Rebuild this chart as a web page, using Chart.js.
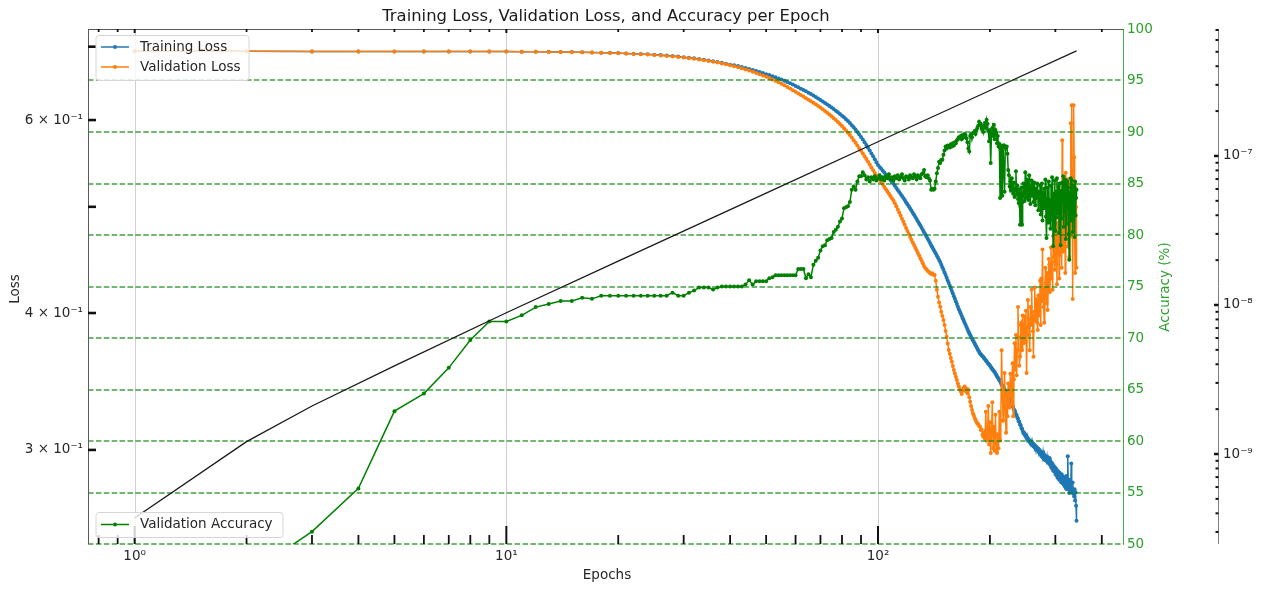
<!DOCTYPE html>
<html>
<head>
<meta charset="utf-8">
<script src="https://cdn.jsdelivr.net/npm/chart.js@4.4.0/dist/chart.umd.min.js"></script>
<style>
  html, body { margin: 0; padding: 0; background: #fff; }
  #wrap { width: 1263px; height: 591px; }
</style>
</head>
<body>
<div id="wrap"><canvas id="chart" width="1263" height="591"></canvas></div>
<script>
// values, one per epoch
const trainLoss = [
  0.6932,0.6932,0.6931,0.6931,0.6931,0.6930,0.6930,0.6929,0.6929,0.6928,
  0.6927,0.6926,0.6925,0.6923,0.6921,0.6919,0.6916,0.6913,0.6910,0.6906,
  0.6902,0.6898,0.6893,0.6888,0.6883,0.6877,0.6870,0.6863,0.6856,0.6848,
  0.6840,0.6831,0.6822,0.6812,0.6801,0.6790,0.6778,0.6766,0.6753,0.6740,
  0.6732,0.6720,0.6707,0.6694,0.6680,0.6666,0.6652,0.6637,0.6622,0.6607,
  0.6594,0.6580,0.6565,0.6549,0.6533,0.6516,0.6499,0.6482,0.6464,0.6446,
  0.6427,0.6409,0.6391,0.6373,0.6355,0.6336,0.6317,0.6298,0.6279,0.6259,
  0.6239,0.6220,0.6200,0.6180,0.6160,0.6140,0.6119,0.6098,0.6077,0.6056,
  0.6034,0.6011,0.5987,0.5962,0.5936,0.5909,0.5881,0.5852,0.5822,0.5791,
  0.5759,0.5727,0.5694,0.5661,0.5628,0.5594,0.5560,0.5526,0.5492,0.5458,
  0.5436,0.5415,0.5394,0.5373,0.5352,0.5331,0.5310,0.5289,0.5268,0.5247,
  0.5225,0.5203,0.5181,0.5159,0.5137,0.5115,0.5093,0.5071,0.5049,0.5027,
  0.5005,0.4983,0.4961,0.4939,0.4917,0.4895,0.4873,0.4851,0.4829,0.4807,
  0.4785,0.4763,0.4741,0.4719,0.4697,0.4676,0.4655,0.4634,0.4613,0.4592,
  0.4572,0.4552,0.4532,0.4512,0.4492,0.4472,0.4452,0.4428,0.4404,0.4380,
  0.4356,0.4332,0.4308,0.4284,0.4260,0.4236,0.4213,0.4190,0.4167,0.4144,
  0.4121,0.4098,0.4076,0.4054,0.4032,0.4013,0.3994,0.3975,0.3956,0.3938,
  0.3920,0.3902,0.3884,0.3867,0.3850,0.3834,0.3820,0.3806,0.3792,0.3778,
  0.3765,0.3752,0.3739,0.3726,0.3713,0.3700,0.3688,0.3676,0.3668,0.3661,
  0.3652,0.3646,0.3637,0.3630,0.3621,0.3614,0.3604,0.3596,0.3590,0.3582,
  0.3572,0.3566,0.3555,0.3548,0.3540,0.3533,0.3522,0.3511,0.3503,0.3494,
  0.3482,0.3476,0.3466,0.3455,0.3442,0.3432,0.3430,0.3415,0.3409,0.3396,
  0.3390,0.3372,0.3369,0.3352,0.3348,0.3331,0.3325,0.3310,0.3301,0.3290,
  0.3284,0.3266,0.3259,0.3249,0.3231,0.3228,0.3212,0.3204,0.3187,0.3183,
  0.3166,0.3160,0.3142,0.3137,0.3121,0.3108,0.3112,0.3095,0.3101,0.3082,
  0.3089,0.3070,0.3076,0.3058,0.3064,0.3049,0.3055,0.3038,0.3047,0.3030,
  0.3041,0.3022,0.3034,0.3015,0.3026,0.3009,0.3019,0.3003,0.2998,0.3008,
  0.2985,0.2999,0.2974,0.2990,0.2962,0.2981,0.2955,0.2985,0.2946,0.2970,
  0.2938,0.2962,0.2950,0.2931,0.2958,0.2925,0.2944,0.2917,0.2949,0.2910,
  0.2930,0.2896,0.2921,0.2885,0.2912,0.2871,0.2900,0.2868,0.2893,0.2852,
  0.2886,0.2845,0.2874,0.2830,0.2869,0.2838,0.2818,0.2860,0.2826,0.2842,
  0.2803,0.2851,0.2812,0.2797,0.2835,0.2790,0.2826,0.2779,0.2810,0.2770,
  0.2840,0.2762,0.2802,0.2960,0.2795,0.2771,0.2740,0.2818,0.2752,0.2786,
  0.2915,0.2774,0.2745,0.2802,0.2736,0.2758,0.2720,0.2762,0.2698,0.2745,
  0.2668,0.2585
];

const valLoss = [
  0.6932,0.6932,0.6931,0.6931,0.6931,0.6930,0.6930,0.6929,0.6929,0.6928,
  0.6927,0.6926,0.6924,0.6922,0.6920,0.6918,0.6915,0.6912,0.6908,0.6904,
  0.6900,0.6895,0.6890,0.6885,0.6879,0.6873,0.6866,0.6858,0.6850,0.6842,
  0.6833,0.6824,0.6814,0.6804,0.6793,0.6782,0.6770,0.6758,0.6745,0.6732,
  0.6718,0.6704,0.6689,0.6673,0.6657,0.6641,0.6624,0.6607,0.6589,0.6571,
  0.6553,0.6534,0.6515,0.6495,0.6475,0.6454,0.6433,0.6411,0.6389,0.6366,
  0.6345,0.6324,0.6303,0.6282,0.6262,0.6242,0.6222,0.6201,0.6180,0.6159,
  0.6138,0.6116,0.6094,0.6071,0.6048,0.6024,0.6000,0.5975,0.5950,0.5924,
  0.5897,0.5870,0.5842,0.5813,0.5783,0.5752,0.5720,0.5688,0.5656,0.5624,
  0.5592,0.5560,0.5528,0.5496,0.5464,0.5432,0.5400,0.5368,0.5340,0.5314,
  0.5289,0.5264,0.5239,0.5214,0.5189,0.5164,0.5140,0.5116,0.5092,0.5068,
  0.5037,0.5005,0.4973,0.4941,0.4909,0.4877,0.4845,0.4814,0.4783,0.4752,
  0.4722,0.4692,0.4666,0.4640,0.4614,0.4588,0.4563,0.4538,0.4513,0.4488,
  0.4464,0.4440,0.4416,0.4398,0.4385,0.4370,0.4363,0.4352,0.4342,0.4349,
  0.4336,0.4333,0.4280,0.4200,0.4140,0.4090,0.4054,0.4010,0.3975,0.3942,
  0.3900,0.3852,0.3806,0.3752,0.3701,0.3672,0.3640,0.3610,0.3578,0.3549,
  0.3522,0.3498,0.3475,0.3450,0.3427,0.3410,0.3392,0.3375,0.3398,0.3418,
  0.3428,0.3395,0.3412,0.3380,0.3403,0.3352,0.3320,0.3291,0.3263,0.3240,
  0.3225,0.3208,0.3195,0.3183,0.3172,0.3168,0.3155,0.3151,0.3128,0.3132,
  0.3098,0.3085,0.3110,0.3072,0.3250,0.3058,0.3063,0.3290,0.3035,0.3180,
  0.2981,0.3120,0.3316,0.3010,0.3150,0.2995,0.3230,0.3040,0.2981,0.3100,
  0.3010,0.3250,0.3060,0.3190,0.3700,0.3400,0.3190,0.3350,0.3526,0.3280,
  0.3110,0.3380,0.3220,0.3450,0.3310,0.3280,0.3520,0.3450,0.3300,0.3600,
  0.3220,0.3480,0.3754,0.3550,0.3820,0.3510,0.3700,0.4050,0.3800,0.3580,
  0.3648,0.3900,0.3920,0.3700,0.3980,0.3754,0.3850,0.3970,0.3760,0.4020,
  0.3526,0.3880,0.4110,0.3950,0.3820,0.3700,0.4050,0.3900,0.4200,0.3980,
  0.3850,0.3648,0.4010,0.4220,0.3940,0.4120,0.4090,0.3920,0.3860,0.4150,
  0.3980,0.4050,0.4280,0.3900,0.4300,0.4100,0.4570,0.4200,0.4050,0.3920,
  0.4150,0.4400,0.4260,0.4080,0.4350,0.4025,0.4200,0.4480,0.4430,0.4180,
  0.4350,0.4590,0.4300,0.4450,0.4200,0.4700,0.4500,0.4890,0.4380,0.4600,
  0.4430,0.4750,0.4250,0.4830,0.4550,0.4980,0.4300,0.4700,0.4520,0.5000,
  0.4650,0.4400,0.5750,0.4800,0.4550,0.5100,0.4590,0.4900,0.4350,0.5370,
  0.4700,0.5050,0.5180,0.4600,0.4950,0.5300,0.4500,0.4880,0.5250,0.5960,
  0.4700,0.6190,0.5100,0.4120,0.5400,0.6190,0.5550,0.4800,0.4350,0.5200,
  0.5000,0.4400
];

const valAcc = [
  40.0,46.9,51.2,55.4,62.9,64.6,67.1,69.8,71.6,71.6,
  72.2,73.0,73.3,73.6,73.6,73.9,73.8,74.1,74.1,74.1,
  74.1,74.1,74.1,74.1,74.1,74.1,74.1,74.4,74.1,74.1,
  74.4,74.6,74.9,74.9,74.9,74.7,74.9,75.0,75.0,75.0,
  75.0,75.0,75.0,75.2,75.6,75.2,75.5,75.5,75.5,75.5,
  75.8,75.9,76.1,76.1,76.1,76.1,76.1,76.1,76.1,76.1,
  76.7,76.7,76.7,75.8,76.2,75.9,77.1,77.5,77.8,78.5,
  78.9,79.0,79.5,79.6,79.7,80.3,80.5,80.8,81.3,81.6,
  82.6,82.7,82.8,83.2,84.4,84.7,84.4,85.2,85.7,85.7,
  86.1,85.8,85.4,85.6,85.2,85.6,85.4,85.7,85.3,85.5,
  85.8,85.4,85.6,85.3,85.7,85.5,85.9,85.4,85.6,85.3,
  85.7,85.5,85.8,85.4,85.6,85.9,85.5,85.3,85.7,85.6,
  85.4,85.8,85.6,85.5,85.9,85.7,85.4,85.8,85.6,85.5,
  85.9,86.0,86.3,85.7,85.6,85.8,85.5,85.3,84.4,84.5,
  84.4,84.5,85.2,86.0,86.5,87.1,87.0,87.3,87.3,87.8,
  88.2,88.6,88.4,88.7,88.6,88.5,88.8,88.6,88.9,88.7,
  89.0,88.9,89.2,89.3,89.5,89.4,89.6,89.3,89.7,89.5,
  89.8,89.7,89.4,89.0,88.4,88.1,89.6,89.8,89.5,89.9,
  89.9,90.1,89.8,90.2,90.4,90.6,91.0,90.7,90.8,90.3,
  90.5,90.0,90.6,90.9,90.4,91.2,90.8,90.1,89.1,90.2,
  87.0,89.8,90.4,89.6,90.7,89.3,90.2,89.9,88.9,89.6,
  88.6,88.8,83.6,88.7,88.5,83.8,88.7,88.7,84.2,88.6,
  88.4,88.6,87.9,86.3,85.8,84.7,85.2,84.3,85.5,84.6,
  84.0,85.1,83.7,84.5,86.2,83.9,84.8,83.5,83.1,84.4,
  81.0,83.8,84.6,81.0,83.2,85.0,84.1,83.3,86.1,84.2,
  83.6,85.4,84.0,83.4,85.8,84.3,83.0,84.7,85.3,83.8,
  84.9,83.2,85.1,84.0,82.9,84.5,83.6,85.0,83.9,82.4,
  84.2,83.1,84.8,82.0,83.7,85.0,81.4,84.1,82.6,84.5,
  82.7,85.4,81.8,79.7,83.5,84.6,81.2,85.2,82.3,83.4,
  80.6,84.8,82.0,85.6,81.5,78.9,84.0,82.8,85.3,80.4,
  84.2,81.7,85.5,83.0,82.1,84.7,80.2,85.0,82.5,79.0,
  84.3,81.6,85.1,83.2,85.7,80.8,84.0,82.2,85.4,79.6,
  83.8,81.1,85.2,82.7,84.6,80.1,77.6,84.1,82.0,85.5,
  81.4,85.3,83.0,80.3,84.8,82.5,84.4,79.8,85.2,81.9,
  83.6,84.4
];

const epochs = trainLoss.map((_, i) => i + 1);

// learning rate (black line, third axis)
const lrEpochs = [1, 2, 3, 5, 10, 20, 50, 100, 200, 342];
const lrValues = [3.72e-10, 1.21e-9, 2.10e-9, 3.90e-9, 8.87e-9, 1.97e-8, 5.63e-8, 1.245e-7, 2.75e-7, 5.07e-7];

// tick labels
const xTicks = [1, 10, 100];
const xTickLabels = ['10\u2070', '10\u00B9', '10\u00B2'];
const xMinor = [0.8, 0.9, 2, 3, 4, 5, 6, 7, 8, 9, 20, 30, 40, 50, 60, 70, 80, 90, 200, 300, 400];
const lossTicks = [0.3, 0.4, 0.5, 0.6, 0.7];
const lossTickLabels = ['3 \u00D7 10\u207B\u00B9', '4 \u00D7 10\u207B\u00B9', '', '6 \u00D7 10\u207B\u00B9', ''];
const accTicks = [50, 55, 60, 65, 70, 75, 80, 85, 90, 95, 100];
const lrTicks = [1e-9, 1e-8, 1e-7];
const lrTickLabels = ['10\u207B\u2079', '10\u207B\u2078', '10\u207B\u2077'];

const FONT = "'DejaVu Sans', sans-serif";
Chart.defaults.font.family = FONT;
Chart.defaults.font.size = 13.5;
Chart.defaults.color = '#262626';

function line(ctx, x1, y1, x2, y2) {
  ctx.beginPath();
  ctx.moveTo(x1, y1);
  ctx.lineTo(x2, y2);
  ctx.stroke();
}

function roundBox(ctx, x, y, w, h, r) {
  ctx.beginPath();
  ctx.moveTo(x + r, y);
  ctx.lineTo(x + w - r, y);
  ctx.arcTo(x + w, y, x + w, y + r, r);
  ctx.lineTo(x + w, y + h - r);
  ctx.arcTo(x + w, y + h, x + w - r, y + h, r);
  ctx.lineTo(x + r, y + h);
  ctx.arcTo(x, y + h, x, y + h - r, r);
  ctx.lineTo(x, y + r);
  ctx.arcTo(x, y, x + r, y, r);
  ctx.closePath();
}

function legendBox(ctx, x, y, w, h, items) {
  ctx.save();
  roundBox(ctx, x, y, w, h, 3);
  ctx.fillStyle = 'rgba(255,255,255,0.8)';
  ctx.fill();
  ctx.strokeStyle = '#d6d6d6';
  ctx.lineWidth = 1;
  ctx.stroke();
  items.forEach(it => {
    ctx.strokeStyle = it.color;
    ctx.lineWidth = 1.5;
    line(ctx, x + 5, it.y, x + 33, it.y);
    ctx.fillStyle = it.color;
    ctx.beginPath();
    ctx.arc(x + 19, it.y, 2, 0, Math.PI * 2);
    ctx.fill();
    ctx.fillStyle = '#262626';
    ctx.font = '13.5px ' + FONT;
    ctx.textAlign = 'left';
    ctx.textBaseline = 'middle';
    ctx.fillText(it.label, x + 44, it.y);
  });
  ctx.restore();
}

const decor = {
  id: 'decor',
  beforeDatasetsDraw(chart) {
    const { ctx, chartArea: a, scales } = chart;
    ctx.save();
    ctx.strokeStyle = '#d0d0d0';
    ctx.lineWidth = 1;
    xTicks.forEach(v => {
      const px = Math.round(scales.x.getPixelForValue(v)) + 0.5;
      line(ctx, px, a.top, px, a.bottom);
    });
    ctx.restore();
  },
  beforeDatasetDraw(chart, args) {
    if (args.index !== 2) return;
    const { ctx, chartArea: a, scales } = chart;
    ctx.save();
    ctx.strokeStyle = 'rgba(0,128,0,0.75)';
    ctx.lineWidth = 1.5;
    ctx.setLineDash([5.5, 2.4]);
    accTicks.slice(0, -1).forEach(v => {
      const py = Math.round(scales.yAcc.getPixelForValue(v));
      line(ctx, a.left, py, a.right, py);
    });
    ctx.restore();
  },
  afterDatasetsDraw(chart) {
    const { ctx, chartArea: a, scales } = chart;
    ctx.save();
    // spines
    ctx.strokeStyle = '#5a5a5a';
    ctx.lineWidth = 1;
    line(ctx, a.left + 0.5, a.top, a.left + 0.5, a.bottom);
    line(ctx, a.left, a.top + 0.5, a.right, a.top + 0.5);
    ctx.strokeStyle = 'rgba(44,160,44,0.85)';
    line(ctx, a.right - 0.5, a.top, a.right - 0.5, a.bottom);
    // x ticks, bottom and top
    ctx.strokeStyle = '#111';
    ctx.lineWidth = 1.8;
    xMinor.forEach(v => {
      const px = scales.x.getPixelForValue(v);
      line(ctx, px, a.bottom, px, a.bottom - 9);
      line(ctx, px, a.top, px, a.top + 3);
    });
    ctx.lineWidth = 2;
    xTicks.forEach(v => {
      const px = scales.x.getPixelForValue(v);
      line(ctx, px, a.bottom, px, a.bottom - 18);
      line(ctx, px, a.top, px, a.top + 4);
    });
    // loss ticks
    ctx.lineWidth = 2.6;
    lossTicks.forEach(v => {
      const py = scales.y.getPixelForValue(v);
      line(ctx, a.left, py, a.left + 8, py);
    });
    // learning-rate axis
    const lr = scales.yLr;
    const sx = lr.left + 0.5;
    ctx.strokeStyle = '#808080';
    ctx.lineWidth = 1;
    line(ctx, sx, a.top, sx, a.bottom);
    ctx.strokeStyle = '#111';
    ctx.lineWidth = 2;
    for (let d = -10; d <= -7; d++) {
      for (let m = 2; m <= 9; m++) {
        const v = m * Math.pow(10, d);
        if (v < lr.min || v > lr.max) continue;
        const py = lr.getPixelForValue(v);
        line(ctx, sx - 3, py, sx, py);
      }
    }
    ctx.lineWidth = 2.5;
    lrTicks.forEach(v => {
      const py = lr.getPixelForValue(v);
      line(ctx, sx - 4.5, py, sx, py);
    });
    ctx.restore();
  },
  afterDraw(chart) {
    const { ctx } = chart;
    ctx.save();
    ctx.fillStyle = '#1a1a1a';
    ctx.textAlign = 'center';
    ctx.textBaseline = 'middle';
    ctx.font = '16.4px ' + FONT;
    ctx.fillText('Training Loss, Validation Loss, and Accuracy per Epoch', 606, 17);
    ctx.fillStyle = '#262626';
    ctx.font = '13.5px ' + FONT;
    ctx.fillText('Epochs', 607, 575);
    ctx.save();
    ctx.translate(15, 289);
    ctx.rotate(-Math.PI / 2);
    ctx.fillText('Loss', 0, 0);
    ctx.restore();
    ctx.save();
    ctx.translate(1165, 287);
    ctx.rotate(-Math.PI / 2);
    ctx.fillStyle = '#2ca02c';
    ctx.fillText('Accuracy (%)', 0, 0);
    ctx.restore();
    ctx.restore();

    legendBox(ctx, 96, 35.5, 153, 45, [
      { label: 'Training Loss', color: '#1f77b4', y: 47 },
      { label: 'Validation Loss', color: '#ff7f0e', y: 67 }
    ]);
    legendBox(ctx, 96, 512.5, 187, 25, [
      { label: 'Validation Accuracy', color: '#008000', y: 524.5 }
    ]);
  }
};

const toXY = (xs, ys) => xs.map((x, i) => ({ x: x, y: ys[i] }));

const ctx = document.getElementById('chart').getContext('2d');
const myChart = new Chart(ctx, {
  type: 'line',
  data: {
    datasets: [
      {
        label: 'Training Loss',
        data: toXY(epochs, trainLoss),
        yAxisID: 'y',
        borderColor: '#1f77b4',
        backgroundColor: '#1f77b4',
        borderWidth: 1.5,
        pointRadius: 2,
        pointBorderWidth: 0,
        order: 4
      },
      {
        label: 'Validation Loss',
        data: toXY(epochs, valLoss),
        yAxisID: 'y',
        borderColor: '#ff7f0e',
        backgroundColor: '#ff7f0e',
        borderWidth: 1.5,
        pointRadius: 2,
        pointBorderWidth: 0,
        order: 3
      },
      {
        label: 'Validation Accuracy',
        data: toXY(epochs, valAcc),
        yAxisID: 'yAcc',
        borderColor: '#008000',
        backgroundColor: '#008000',
        borderWidth: 1.5,
        pointRadius: 2,
        pointBorderWidth: 0,
        order: 2
      },
      {
        label: 'Learning Rate',
        data: toXY(lrEpochs, lrValues),
        yAxisID: 'yLr',
        borderColor: '#1a1a1a',
        borderWidth: 1.3,
        pointRadius: 0,
        order: 1
      }
    ]
  },
  options: {
    responsive: false,
    animation: false,
    events: [],
    layout: { padding: { top: 29, left: 0, right: 0, bottom: 0 } },
    plugins: {
      legend: { display: false },
      tooltip: { enabled: false },
      title: { display: false }
    },
    scales: {
      x: {
        type: 'logarithmic',
        bounds: 'data',
        position: 'bottom',
        min: 0.749,
        max: 459,
        afterBuildTicks: s => { s.ticks = xTicks.map(v => ({ value: v })); },
        afterFit: s => { s.height = 47; },
        grid: { display: false, drawTicks: false },
        border: { display: false },
        ticks: {
          autoSkip: false,
          maxRotation: 0,
          padding: 4,
          callback: (v, i) => xTickLabels[i]
        }
      },
      y: {
        type: 'logarithmic',
        bounds: 'data',
        position: 'left',
        min: 0.2462,
        max: 0.7265,
        afterBuildTicks: s => { s.ticks = lossTicks.map(v => ({ value: v })); },
        afterFit: s => { s.width = 88; },
        grid: { display: false, drawTicks: false },
        border: { display: false },
        ticks: {
          autoSkip: false,
          padding: 5,
          callback: (v, i) => lossTickLabels[i]
        }
      },
      yAcc: {
        type: 'linear',
        bounds: 'data',
        position: 'right',
        weight: 0,
        min: 50,
        max: 100,
        afterBuildTicks: s => { s.ticks = accTicks.map(v => ({ value: v })); },
        afterFit: s => { s.width = 94; },
        grid: { display: false, drawTicks: false },
        border: { display: false },
        ticks: {
          autoSkip: false,
          padding: 3,
          color: '#2ca02c',
          callback: v => String(v)
        }
      },
      yLr: {
        type: 'logarithmic',
        bounds: 'data',
        position: 'right',
        weight: 1,
        min: 2.49e-10,
        max: 7.11e-7,
        afterBuildTicks: s => { s.ticks = lrTicks.map(v => ({ value: v })); },
        afterFit: s => { s.width = 45; },
        grid: { display: false, drawTicks: false },
        border: { display: false },
        ticks: {
          autoSkip: false,
          padding: 5,
          callback: (v, i) => lrTickLabels[i]
        }
      }
    }
  },
  plugins: [decor]
});
</script>
</body>
</html>
